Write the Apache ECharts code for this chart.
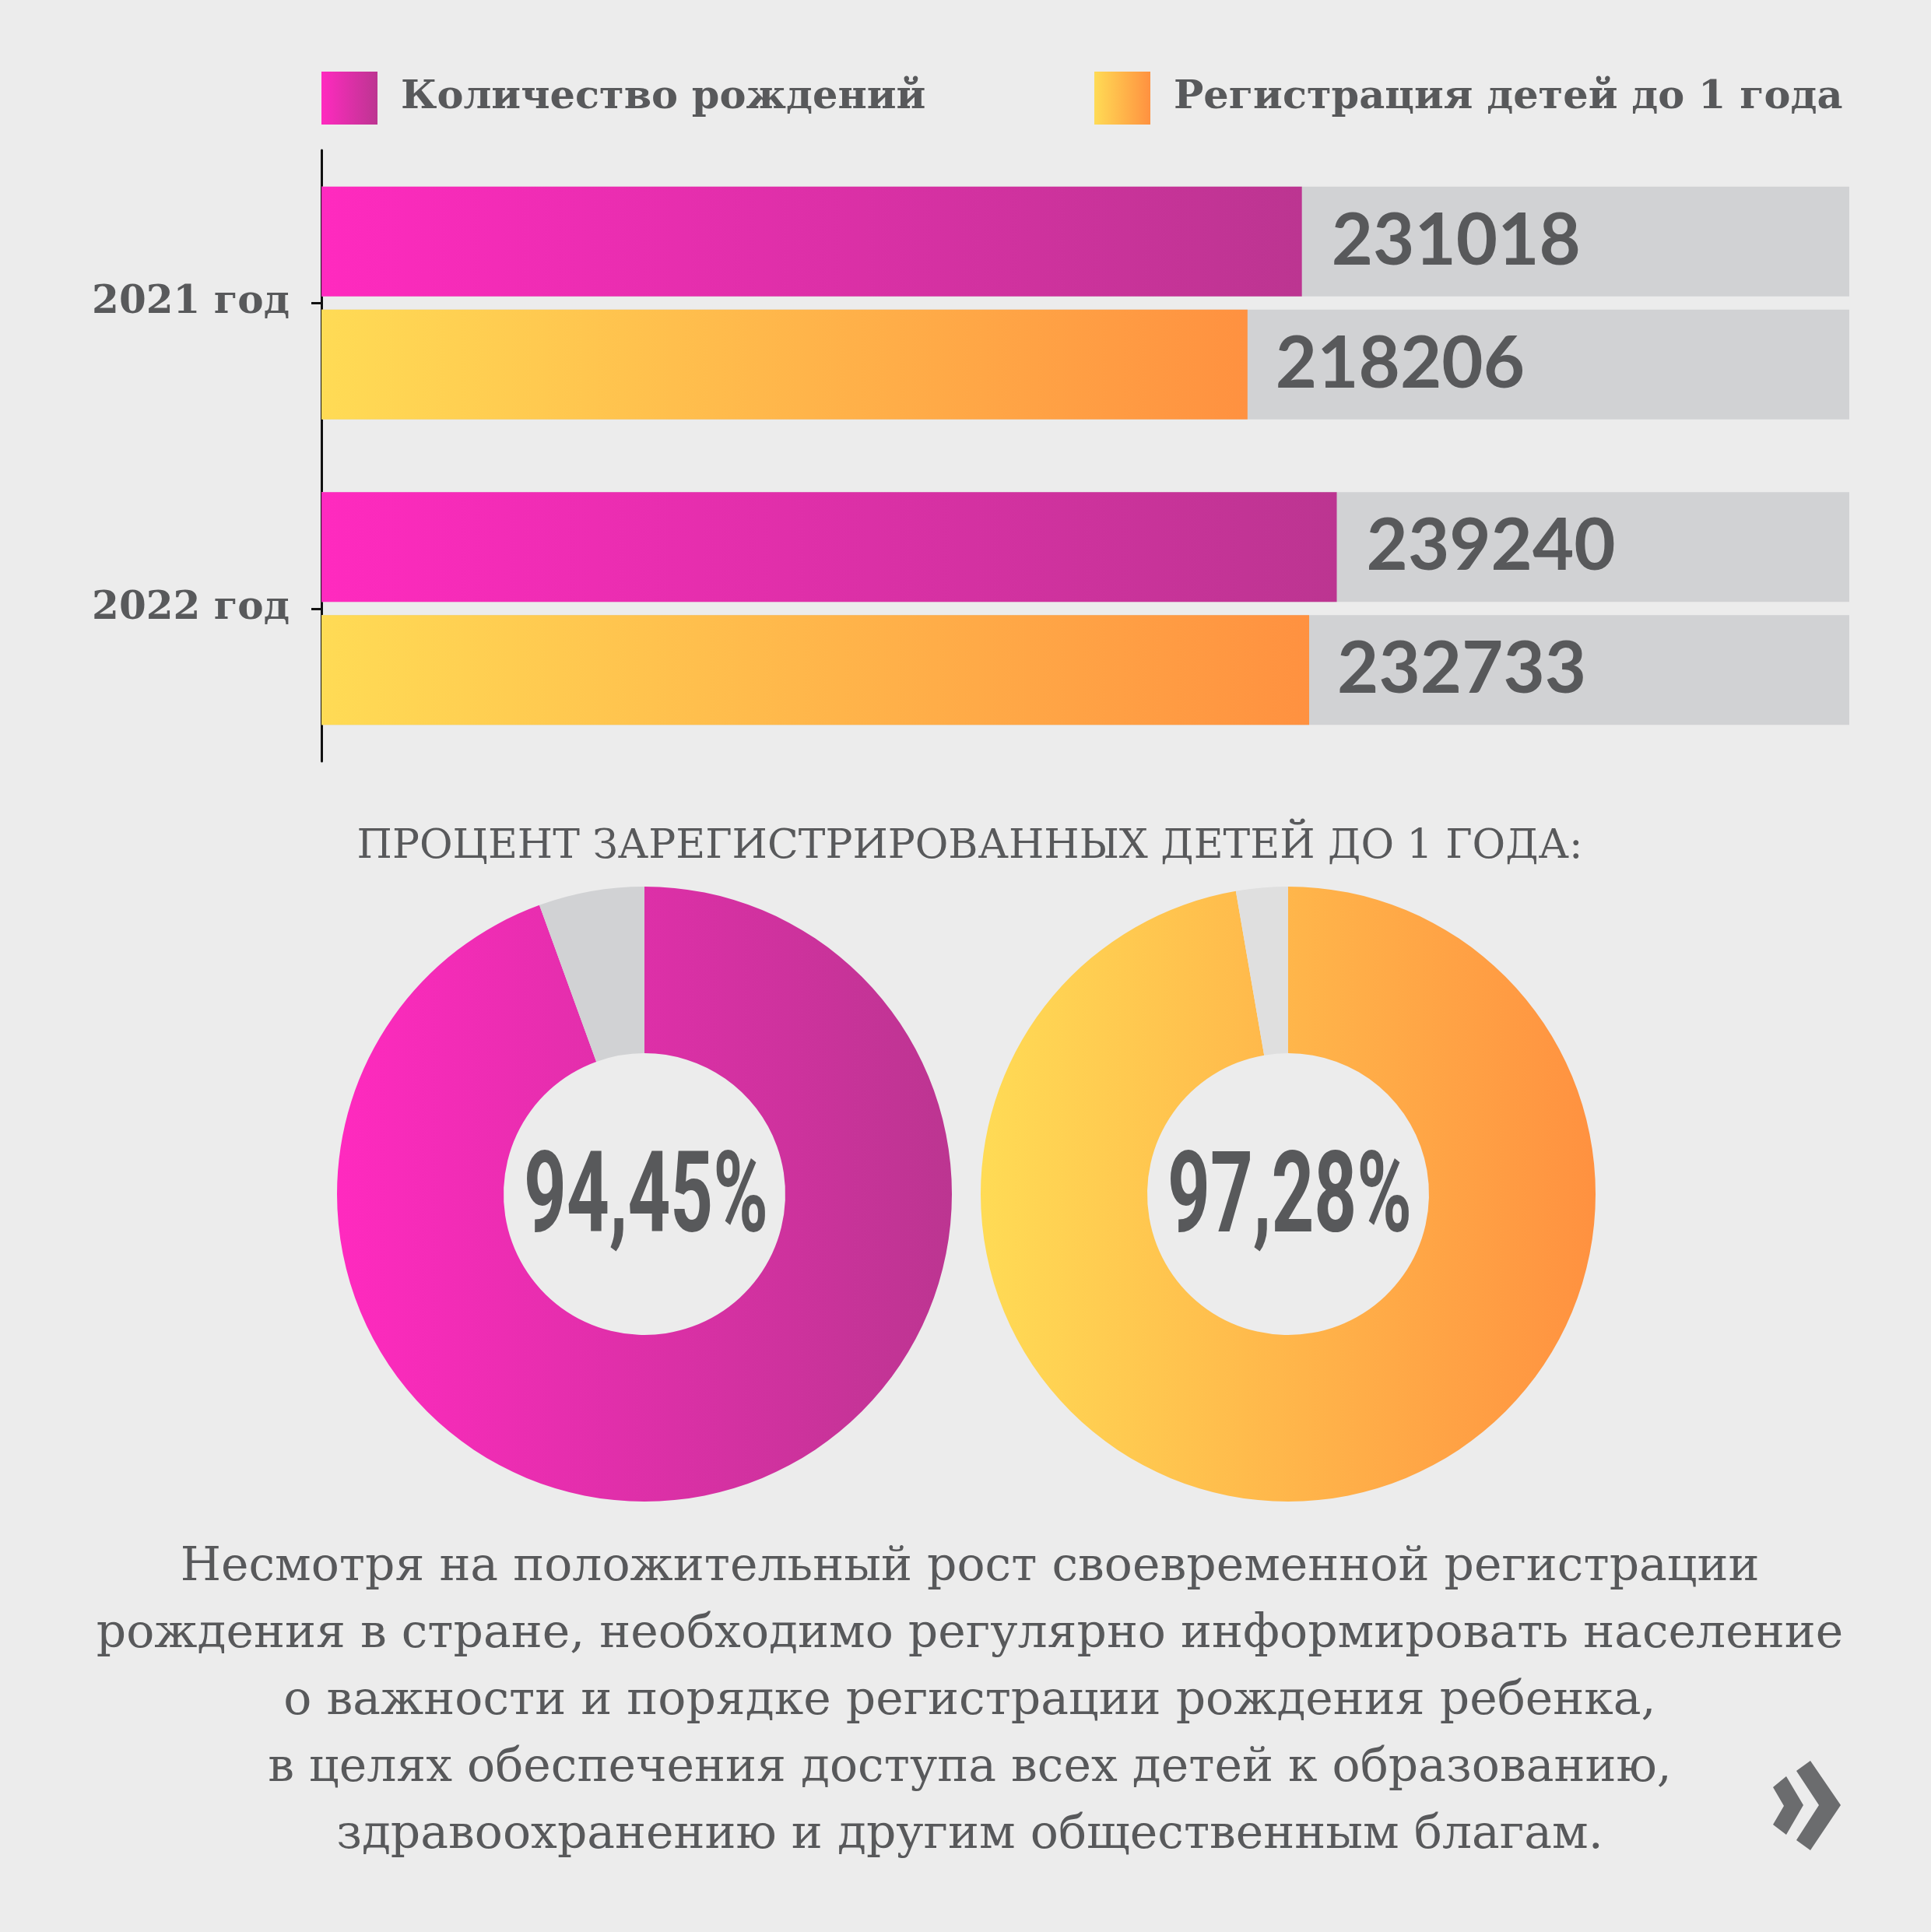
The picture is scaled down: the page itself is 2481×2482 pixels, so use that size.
<!DOCTYPE html>
<html>
<head>
<meta charset="utf-8">
<script src="https://cdn.jsdelivr.net/npm/echarts@6/dist/echarts.min.js"></script>
<style>
html,body{margin:0;padding:0;background:#ececec;}
#c{width:2481px;height:2482px;}
</style>
</head>
<body>
<div id="c"></div>
<script>
// ---- data ----
var years = ['2021 год', '2022 год'];
var seriesNames = ['Количество рождений', 'Регистрация детей до 1 года'];
var births = [231018, 239240];
var registrations = [218206, 232733];
var axisMax = 360000;
var pctTitle = 'ПРОЦЕНТ ЗАРЕГИСТРИРОВАННЫХ ДЕТЕЙ ДО 1 ГОДА:';
var pctValues = [94.45, 97.28];
var pctLabels = ['94,45%', '97,28%'];
var noteLines = [
  'Несмотря на положительный рост своевременной регистрации',
  'рождения в стране, необходимо регулярно информировать население',
  'о важности и порядке регистрации рождения ребенка,',
  'в целях обеспечения доступа всех детей к образованию,',
  'здравоохранению и другим общественным благам.'
];

var TXT = '#58595b';
var SERIF = '"DejaVu Serif", "Liberation Serif", serif';
function grad(c0, c1) {
  return new echarts.graphic.LinearGradient(0, 0, 1, 0, [
    {offset: 0, color: c0}, {offset: 1, color: c1}
  ]);
}
var magenta = grad('#ff2abf', '#bc3591');
var orange = grad('#ffdb55', '#ff9140');

var chart = echarts.init(document.getElementById('c'), null, {renderer: 'canvas'});

var legendText = {fontFamily: SERIF, fontWeight: 'bold', fontSize: 51, color: TXT, padding: [0, 0, 0, 25]};
var pieCenters = [[828, 1534], [1655, 1534]];

function pctText(i) {
  return {
    type: 'text', silent: true, x: pieCenters[i][0] + 2, y: pieCenters[i][1] + 12, scaleX: 0.66,
    style: {text: pctLabels[i], fontFamily: 'Roboto, "DejaVu Sans", sans-serif', fontWeight: 'bold', fontSize: 145,
      fill: TXT, align: 'center', verticalAlign: 'middle'}
  };
}

var option = {
  backgroundColor: '#ececec',
  animation: false,
  title: [
    {
      text: pctTitle, left: 1241, top: 1057, textAlign: 'center',
      textStyle: {fontFamily: SERIF, fontWeight: 'normal', fontSize: 52, color: TXT}
    },
    {
      text: noteLines.join('\n'), left: 1241, top: 1966, textAlign: 'center',
      textStyle: {fontFamily: SERIF, fontWeight: 'normal', fontSize: 60, lineHeight: 86, color: TXT, align: 'center'}
    }
  ],
  legend: [
    {left: 408, top: 87, itemWidth: 72, itemHeight: 68, data: [seriesNames[0]], selectedMode: false, textStyle: legendText, icon: 'rect'},
    {left: 1401, top: 87, itemWidth: 72, itemHeight: 68, data: [seriesNames[1]], selectedMode: false, textStyle: legendText, icon: 'rect'}
  ],
  grid: {left: 413, right: 2481 - 2376, top: 193, height: 785, containLabel: false},
  xAxis: {type: 'value', min: 0, max: axisMax, show: false},
  yAxis: {
    type: 'category', data: years, inverse: true,
    axisLine: {show: true, lineStyle: {color: '#111', width: 3}},
    axisTick: {show: true, alignWithLabel: true, length: 13, lineStyle: {color: '#111', width: 3}},
    axisLabel: {margin: 41, fontFamily: SERIF, fontWeight: 'bold', fontSize: 50, color: TXT},
    splitLine: {show: false}
  },
  series: [
    {
      name: seriesNames[0], type: 'bar', data: births, barWidth: 141, barGap: '12%',
      itemStyle: {color: magenta},
      showBackground: true, backgroundStyle: {color: '#d1d2d4'},
      label: {show: true, position: 'right', distance: 38, fontFamily: 'Lato, "Open Sans", sans-serif', fontWeight: 'bold', fontSize: 92, color: TXT},
      silent: true
    },
    {
      name: seriesNames[1], type: 'bar', data: registrations, barWidth: 141,
      itemStyle: {color: orange},
      showBackground: true, backgroundStyle: {color: '#d1d2d4'},
      label: {show: true, position: 'right', distance: 36, fontFamily: 'Lato, "Open Sans", sans-serif', fontWeight: 'bold', fontSize: 92, color: TXT},
      silent: true
    },
    {
      type: 'pie', center: pieCenters[0], radius: [181, 395], startAngle: 90, clockwise: true,
      silent: true, avoidLabelOverlap: false, labelLine: {show: false},
      emphasis: {disabled: true}, label: {show: false},
      data: [
        {value: pctValues[0], itemStyle: {color: magenta}},
        {value: +(100 - pctValues[0]).toFixed(2), itemStyle: {color: '#d1d2d4'}}
      ]
    },
    {
      type: 'pie', center: pieCenters[1], radius: [181, 395], startAngle: 90, clockwise: true,
      silent: true, avoidLabelOverlap: false, labelLine: {show: false},
      emphasis: {disabled: true}, label: {show: false},
      data: [
        {value: pctValues[1], itemStyle: {color: orange}},
        {value: +(100 - pctValues[1]).toFixed(2), itemStyle: {color: '#dfdfdf'}}
      ]
    }
  ],
  graphic: [
    pctText(0), pctText(1),
    {type: 'polygon', silent: true, shape: {points: [[2278,2296],[2295,2282],[2317,2319],[2295,2357],[2278,2344],[2292,2320]]}, style: {fill: '#6b6c6e'}},
    {type: 'polygon', silent: true, shape: {points: [[2308,2275],[2326,2262],[2365,2319],[2326,2377],[2308,2364],[2337,2319]]}, style: {fill: '#6b6c6e'}}
  ]
};
chart.setOption(option);
</script>
</body>
</html>
